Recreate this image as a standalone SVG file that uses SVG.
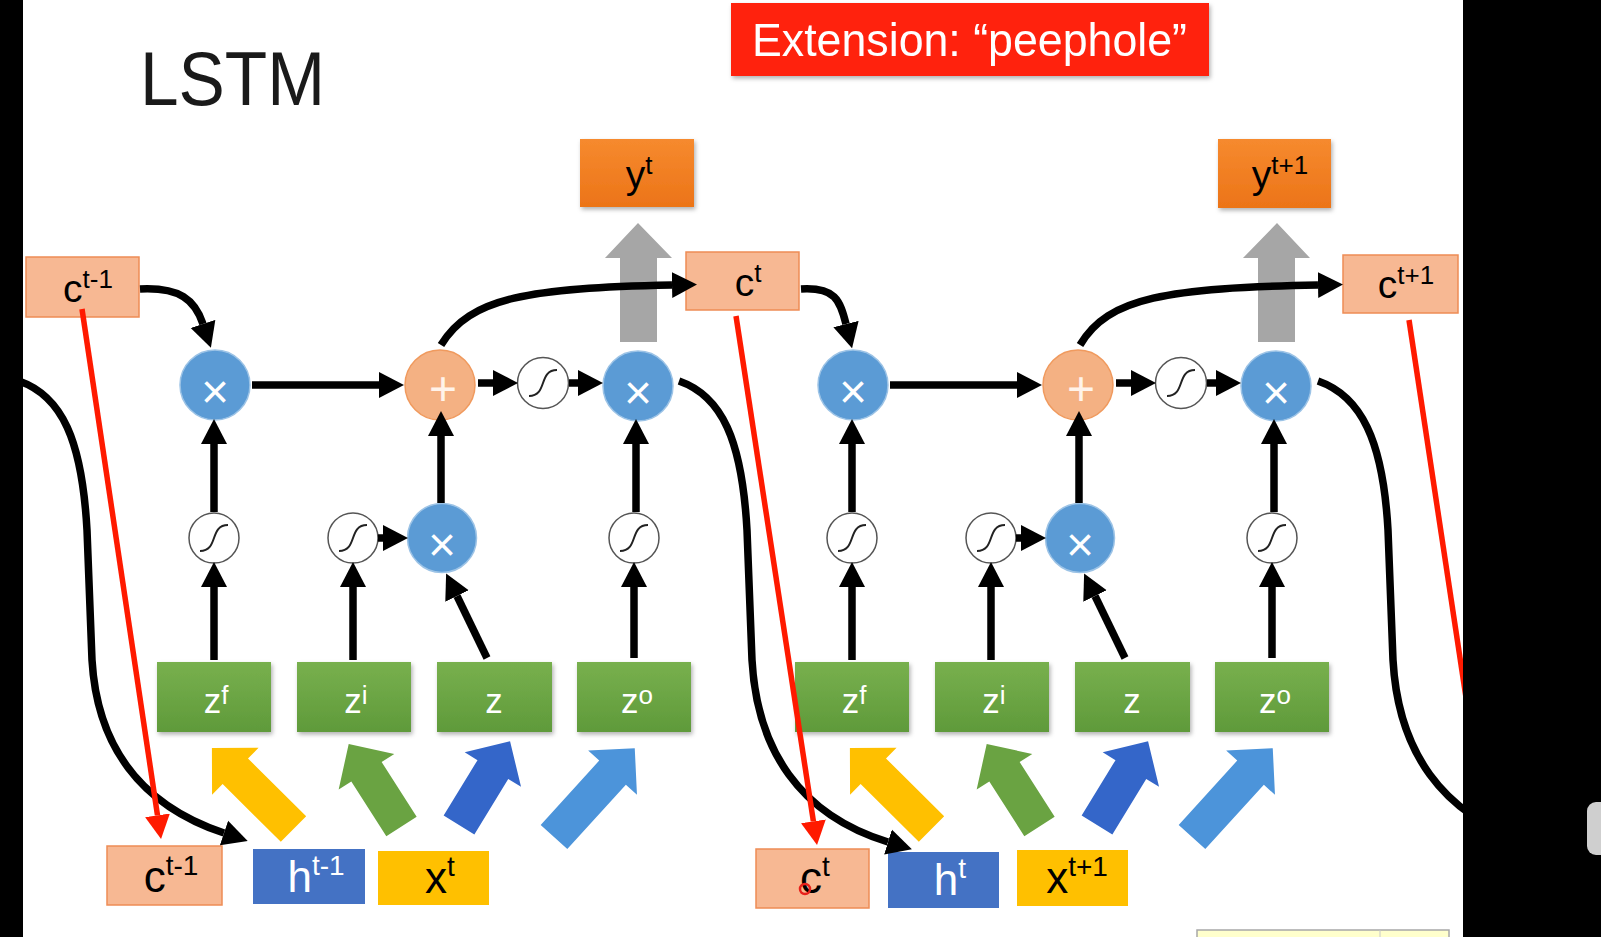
<svg xmlns="http://www.w3.org/2000/svg" width="1601" height="937" viewBox="0 0 1601 937">
<defs>
<style>
.t{font-family:"Liberation Sans",Arial,sans-serif}
.conn{fill:none;stroke:#000;stroke-width:7.5;marker-end:url(#ah)}
.peep{fill:none;stroke:#FF1A00;stroke-width:5.5;marker-end:url(#ahr)}
.cbox{fill:#F7B893;stroke:#EE8C55;stroke-width:1.5}
.ybox{fill:url(#gOr);filter:url(#sh)}
.gbox{fill:url(#gGr);filter:url(#sh)}
.hbox{fill:#4472C4}
.xbox{fill:#FFC000}
.mul{fill:#5B9BD5;stroke:#9CC3E6;stroke-width:1.5}
.add{fill:#F4B183;stroke:#F09A5E;stroke-width:1.5}
.sig{fill:#fff;stroke:#555;stroke-width:1.5}
.scurve{fill:none;stroke:#222;stroke-width:2}
.gray{fill:#A6A6A6}
.sym{font-family:"Liberation Sans",Arial,sans-serif;font-size:48px;fill:#fff;text-anchor:middle}
.lt{font-family:"Liberation Sans",Arial,sans-serif;text-anchor:middle}
</style>
<linearGradient id="gGr" x1="0" y1="0" x2="0" y2="1"><stop offset="0" stop-color="#78B04E"/><stop offset="1" stop-color="#5F9A3A"/></linearGradient>
<linearGradient id="gOr" x1="0" y1="0" x2="0" y2="1"><stop offset="0" stop-color="#F68A2E"/><stop offset="1" stop-color="#EC7418"/></linearGradient>
<filter id="sh" x="-10%" y="-10%" width="130%" height="140%"><feDropShadow dx="1.5" dy="2.5" stdDeviation="2" flood-color="#000" flood-opacity="0.3"/></filter>
<marker id="ah" markerUnits="userSpaceOnUse" markerWidth="26" markerHeight="28" viewBox="0 -14 26 28" refX="0" refY="0" orient="auto"><path d="M0,-13 L25,0 L0,13 Z" fill="#000"/></marker>
<marker id="ahr" markerUnits="userSpaceOnUse" markerWidth="26" markerHeight="28" viewBox="0 -14 26 28" refX="0" refY="0" orient="auto"><path d="M0,-12.5 L24,0 L0,12.5 Z" fill="#FF1A00"/></marker>
<path id="blk" d="M0,-18 L-82,-18 L-82,-33 L-115,0 L-82,33 L-82,18 L0,18 Z"/>
<path id="blkS" d="M0,-18 L-65,-18 L-65,-33 L-98,0 L-65,33 L-65,18 L0,18 Z"/>
<path id="blkL" d="M0,-18 L-87,-18 L-87,-33 L-120,0 L-87,33 L-87,18 L0,18 Z"/>
<path id="sg" d="M-14,13 C5,13 -5,-13 14,-13"/>
</defs>
<rect x="0" y="0" width="1601" height="937" fill="#fff"/>

<g id="title">
<text class="t" x="140" y="105" font-size="76" fill="#1a1a1a" textLength="185" lengthAdjust="spacingAndGlyphs">LSTM</text>
</g>
<g id="extension" filter="url(#sh)">
<rect x="731" y="3" width="478" height="73" fill="#FF2010"/>
<text class="t" x="752" y="56" font-size="46" fill="#fff" textLength="435" lengthAdjust="spacingAndGlyphs">Extension: “peephole”</text>
</g>

<g id="out-arrow-1"><polygon class="gray" points="638,223 672,258 657,258 657,342 620,342 620,258 605,258"/></g>
<g id="out-arrow-2"><polygon class="gray" points="1277,223 1310,258 1295,258 1295,342 1258,342 1258,258 1243,258"/></g>

<g id="c-tm1-top"><rect class="cbox" x="26" y="257" width="113" height="60"/><text class="lt" x="88" y="302" font-size="39">c<tspan dy="-14" font-size="26">t-1</tspan></text></g>
<g id="c-t-top"><rect class="cbox" x="686" y="252" width="113" height="58"/><text class="lt" x="748" y="296" font-size="39">c<tspan dy="-14" font-size="26">t</tspan></text></g>
<g id="c-tp1-top"><rect class="cbox" x="1343" y="255" width="115" height="58"/><text class="lt" x="1406" y="298" font-size="39">c<tspan dy="-14" font-size="26">t+1</tspan></text></g>
<g id="y-t"><rect class="ybox" x="580" y="139" width="114" height="68"/><text class="lt" x="639" y="188" font-size="39">y<tspan dy="-14" font-size="26">t</tspan></text></g>
<g id="y-tp1"><rect class="ybox" x="1218" y="139" width="113" height="69"/><text class="lt" x="1280" y="188" font-size="39">y<tspan dy="-14" font-size="26">t+1</tspan></text></g>

<g id="c1-forget-mul"><circle class="mul" cx="215" cy="385" r="35"/><text class="sym" x="215" y="408">×</text></g>
<g id="c1-add"><circle class="add" cx="440" cy="385" r="35"/><text class="sym" x="443" y="405" style="fill:#FFF3EA">+</text></g>
<g id="c1-tanh"><circle class="sig" cx="543" cy="383" r="25.5"/><use href="#sg" class="scurve" x="543" y="383"/></g>
<g id="c1-out-mul"><circle class="mul" cx="638" cy="386" r="35"/><text class="sym" x="638" y="409">×</text></g>
<g id="c1-sig-f"><circle class="sig" cx="214" cy="538" r="25"/><use href="#sg" class="scurve" x="214" y="538"/></g>
<g id="c1-sig-i"><circle class="sig" cx="353" cy="538" r="25"/><use href="#sg" class="scurve" x="353" y="538"/></g>
<g id="c1-in-mul"><circle class="mul" cx="442" cy="538" r="34.5"/><text class="sym" x="442" y="561">×</text></g>
<g id="c1-sig-o"><circle class="sig" cx="634" cy="538" r="25"/><use href="#sg" class="scurve" x="634" y="538"/></g>
<g id="c1-zf"><rect class="gbox" x="157" y="662" width="114" height="70"/><text class="lt" x="216" y="713" font-size="35" fill="#fff">z<tspan dy="-9" font-size="26">f</tspan></text></g>
<g id="c1-zi"><rect class="gbox" x="297" y="662" width="114" height="70"/><text class="lt" x="356" y="713" font-size="35" fill="#fff">z<tspan dy="-9" font-size="26">i</tspan></text></g>
<g id="c1-z"><rect class="gbox" x="437" y="662" width="115" height="70"/><text class="lt" x="494" y="713" font-size="35" fill="#fff">z</text></g>
<g id="c1-zo"><rect class="gbox" x="577" y="662" width="114" height="70"/><text class="lt" x="637" y="713" font-size="35" fill="#fff">z<tspan dy="-9" font-size="26">o</tspan></text></g>
<g id="c1-inputs">
<use href="#blk" transform="translate(293.5,829) rotate(44.8)" fill="#FFC000"/>
<use href="#blkS" transform="translate(401.5,826.5) rotate(57.4)" fill="#6AA342"/>
<use href="#blkS" transform="translate(459,825) rotate(121.4)" fill="#3466C9"/>
<use href="#blkL" transform="translate(554,837) rotate(132.3)" fill="#4C94DA"/>
</g>
<g id="c-tm1-bot"><rect class="cbox" x="107" y="846" width="115" height="59"/><text class="lt" x="171" y="892" font-size="44">c<tspan dy="-17" font-size="28">t-1</tspan></text></g>
<g id="h-tm1"><rect class="hbox" x="253" y="849" width="112" height="55"/><text class="lt" x="316" y="892" font-size="44" fill="#fff">h<tspan dy="-17" font-size="28">t-1</tspan></text></g>
<g id="x-t"><rect class="xbox" x="378" y="851" width="111" height="54"/><text class="lt" x="440" y="893" font-size="44">x<tspan dy="-17" font-size="28">t</tspan></text></g>

<g id="c2-forget-mul"><circle class="mul" cx="853" cy="385" r="35"/><text class="sym" x="853" y="408">×</text></g>
<g id="c2-add"><circle class="add" cx="1078" cy="385" r="35"/><text class="sym" x="1081" y="405" style="fill:#FFF3EA">+</text></g>
<g id="c2-tanh"><circle class="sig" cx="1181" cy="383" r="25.5"/><use href="#sg" class="scurve" x="1181" y="383"/></g>
<g id="c2-out-mul"><circle class="mul" cx="1276" cy="386" r="35"/><text class="sym" x="1276" y="409">×</text></g>
<g id="c2-sig-f"><circle class="sig" cx="852" cy="538" r="25"/><use href="#sg" class="scurve" x="852" y="538"/></g>
<g id="c2-sig-i"><circle class="sig" cx="991" cy="538" r="25"/><use href="#sg" class="scurve" x="991" y="538"/></g>
<g id="c2-in-mul"><circle class="mul" cx="1080" cy="538" r="34.5"/><text class="sym" x="1080" y="561">×</text></g>
<g id="c2-sig-o"><circle class="sig" cx="1272" cy="538" r="25"/><use href="#sg" class="scurve" x="1272" y="538"/></g>
<g id="c2-zf"><rect class="gbox" x="795" y="662" width="114" height="70"/><text class="lt" x="854" y="713" font-size="35" fill="#fff">z<tspan dy="-9" font-size="26">f</tspan></text></g>
<g id="c2-zi"><rect class="gbox" x="935" y="662" width="114" height="70"/><text class="lt" x="994" y="713" font-size="35" fill="#fff">z<tspan dy="-9" font-size="26">i</tspan></text></g>
<g id="c2-z"><rect class="gbox" x="1075" y="662" width="115" height="70"/><text class="lt" x="1132" y="713" font-size="35" fill="#fff">z</text></g>
<g id="c2-zo"><rect class="gbox" x="1215" y="662" width="114" height="70"/><text class="lt" x="1275" y="713" font-size="35" fill="#fff">z<tspan dy="-9" font-size="26">o</tspan></text></g>
<g id="c2-inputs">
<use href="#blk" transform="translate(931.5,829) rotate(44.8)" fill="#FFC000"/>
<use href="#blkS" transform="translate(1039.5,826.5) rotate(57.4)" fill="#6AA342"/>
<use href="#blkS" transform="translate(1097,825) rotate(121.4)" fill="#3466C9"/>
<use href="#blkL" transform="translate(1192,837) rotate(132.3)" fill="#4C94DA"/>
</g>
<g id="c-t-bot"><rect class="cbox" x="756" y="849" width="113" height="59"/><text class="lt" x="815" y="893" font-size="44">c<tspan dy="-17" font-size="28">t</tspan></text><circle cx="805" cy="889" r="5" fill="none" stroke="#E8201A" stroke-width="2.5"/></g>
<g id="h-t"><rect class="hbox" x="888" y="852" width="111" height="56"/><text class="lt" x="950" y="895" font-size="44" fill="#fff">h<tspan dy="-17" font-size="28">t</tspan></text></g>
<g id="x-tp1"><rect class="xbox" x="1017" y="850" width="111" height="56"/><text class="lt" x="1077" y="893" font-size="44">x<tspan dy="-17" font-size="28">t+1</tspan></text></g>

<g id="connectors">
<path class="conn" d="M140,289 C180,287 195,300 203,324"/>
<path class="conn" d="M252,385 L379,385"/>
<path class="conn" d="M441,345 C470,297 530,288 672,285"/>
<path class="conn" d="M478,383 L493,383"/>
<path class="conn" d="M569,383 L578,383"/>
<path class="conn" d="M214,512 L214,444"/>
<path class="conn" d="M214,660 L214,587"/>
<path class="conn" d="M353,660 L353,587"/>
<path class="conn" d="M378,538 L383,538"/>
<path class="conn" d="M487,658 L457,596"/>
<path class="conn" d="M441,503 L441,436"/>
<path class="conn" d="M634,658 L634,587"/>
<path class="conn" d="M636,512 L636,444"/>
<path class="conn" d="M19,381 C62,396 82,440 87,530 L92,660 C97,745 140,805 224,833"/>
<path class="conn" d="M679,381 C722,396 742,440 747,530 L752,660 C757,750 800,815 888,842"/>
<path class="conn" d="M801,289 C835,287 840,300 846,324"/>
<path class="conn" d="M890,385 L1017,385"/>
<path class="conn" d="M1080,345 C1108,297 1168,288 1318,285"/>
<path class="conn" d="M1116,383 L1131,383"/>
<path class="conn" d="M1207,383 L1216,383"/>
<path class="conn" d="M852,512 L852,444"/>
<path class="conn" d="M852,660 L852,587"/>
<path class="conn" d="M991,660 L991,587"/>
<path class="conn" d="M1016,538 L1021,538"/>
<path class="conn" d="M1125,658 L1095,596"/>
<path class="conn" d="M1079,503 L1079,436"/>
<path class="conn" d="M1272,658 L1272,587"/>
<path class="conn" d="M1274,512 L1274,444"/>
<path class="conn" d="M1318,381 C1361,396 1383,440 1388,530 L1393,660 C1398,750 1441,815 1529,842"/>
<path class="peep" d="M82,309 L157.5,815.3"/>
<path class="peep" d="M736,316 L813.4,821.3"/>
<path class="peep" d="M1409,320 L1489,850"/>
</g>

<g id="frame">
<rect x="1197" y="930" width="252" height="12" fill="#FFFFCC" stroke="#A8A8A8" stroke-width="1.5"/>
<line x1="1380" y1="930" x2="1380" y2="937" stroke="#C8C8C8" stroke-width="1"/>
<rect x="0" y="0" width="23" height="937" fill="#000"/>
<rect x="1463" y="0" width="138" height="937" fill="#000"/>
<rect x="1587" y="802" width="30" height="53" rx="9" fill="#CFCFCF"/>
</g>
</svg>
